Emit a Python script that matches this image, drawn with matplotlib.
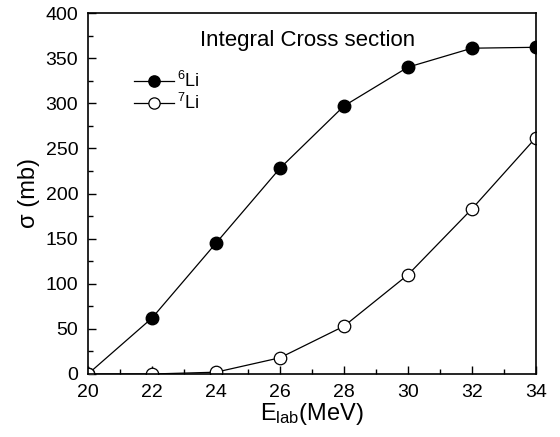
import matplotlib
matplotlib.use("Agg")
import matplotlib.pyplot as plt
from matplotlib.ticker import MultipleLocator

plt.rcParams['font.family'] = ['Liberation Sans', 'DejaVu Sans']
plt.rcParams['mathtext.fontset'] = 'custom'
plt.rcParams['mathtext.rm'] = 'Liberation Sans'
plt.rcParams['mathtext.it'] = 'Liberation Sans'

# data
energy = [20, 22, 24, 26, 28, 30, 32, 34]
li6 = [0, 62, 145, 228, 297, 340, 361, 362]
li7 = [0, 0, 2, 18, 53, 110, 183, 262]

fig = plt.figure(figsize=(5.6, 4.37), dpi=100)
ax = fig.add_axes([88 / 560, 1 - 374 / 437, 448 / 560, 361 / 437])

ax.plot(energy, li6, '-o', color='black', lw=0.9, ms=9, mfc='black',
        mec='black', label='$^{6}$Li')
ax.plot(energy, li7, '-o', color='black', lw=0.9, ms=9, mfc='white',
        mec='black', mew=0.9, label='$^{7}$Li')

ax.set_xlim(20, 34)
ax.set_ylim(0, 400)
ax.xaxis.set_major_locator(MultipleLocator(2))
ax.xaxis.set_minor_locator(MultipleLocator(1))
ax.yaxis.set_major_locator(MultipleLocator(50))
ax.yaxis.set_minor_locator(MultipleLocator(25))
ax.tick_params(which='both', direction='in', labelsize=14)
ax.tick_params(which='major', length=6, width=1)
ax.tick_params(which='minor', length=3.5, width=1)
ax.tick_params(axis='x', pad=7)
ax.tick_params(axis='y', pad=7)
for s in ax.spines.values():
    s.set_linewidth(1.2)

ax.set_xlabel('E$_{\\rm lab}$(MeV)', fontsize=17, labelpad=0)
ax.set_ylabel('σ (mb)', fontsize=17, labelpad=4)

ax.text(0.49, 0.925, 'Integral Cross section', transform=ax.transAxes,
        ha='center', va='center', fontsize=16)

ax.legend(loc='upper left', bbox_to_anchor=(0.103, 0.84), frameon=False,
          fontsize=13, handlelength=2.2, handletextpad=0.15, labelspacing=0.12,
          borderpad=0, borderaxespad=0, markerscale=0.9)

fig.savefig('out.png', dpi=100)
